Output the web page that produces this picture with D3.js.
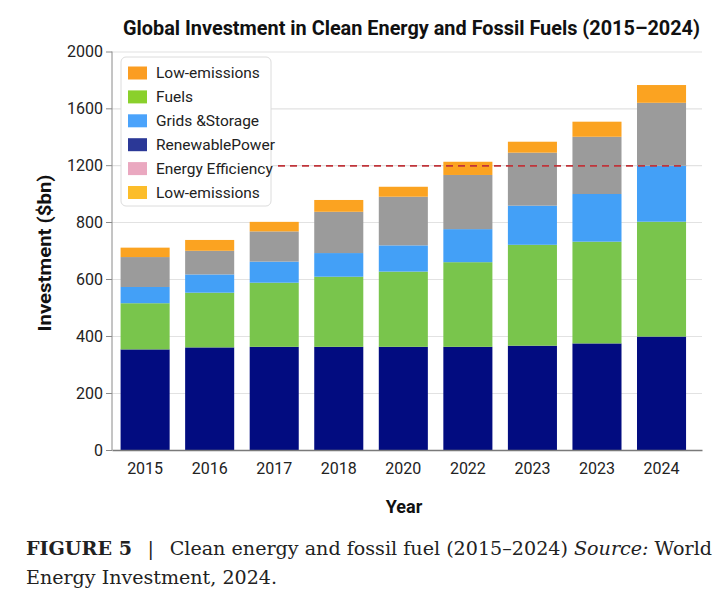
<!DOCTYPE html>
<html>
<head>
<meta charset="utf-8">
<script src="https://cdn.jsdelivr.net/npm/d3@7"></script>
<style>
  body { margin: 0; background: #fff; }
  svg { display: block; }
  .tick text { font-family: Roboto, "Liberation Sans", sans-serif; font-size: 16px; fill: #222; }
</style>
</head>
<body>
<svg id="chart" width="720" height="595"></svg>
<script>
// values ($bn); the y axis is piecewise (0-800 by 200, then by 400)
const years = ["2015", "2016", "2017", "2018", "2020", "2022", "2023", "2023", "2024"];
const renewablePower = [353, 360, 362, 362, 362, 362, 366, 374, 398];
const fuels = [162, 192, 225, 246, 264, 297, 354, 357, 404];
const gridsStorage = [57, 64, 74, 83, 92, 116, 195, 266, 394];
const energyEfficiency = [105, 83, 106, 181, 260, 356, 373, 403, 443];
const lowEmissions = [33, 38, 34, 83, 70, 93, 77, 106, 125];
const yTicks = [0, 200, 400, 600, 800, 1200, 1600, 2000];
const referenceLevel = 1195;
const legendLabels = ["Low-emissions", "Fuels", "Grids &Storage", "RenewablePower", "Energy Efficiency", "Low-emissions"];

const seriesKeys = ["renewablePower", "fuels", "gridsStorage", "energyEfficiency", "lowEmissions"];
const barColors = {
  renewablePower: "#020c80",
  fuels: "#79c54c",
  gridsStorage: "#43a0f7",
  energyEfficiency: "#9b9b9b",
  lowEmissions: "#fba321",
};
const legendColors = ["#fb9d22", "#8ad02c", "#4ba3fb", "#2b3897", "#eaa8c0", "#fcbd2a"];

const rows = years.map((yr, i) => ({
  idx: i,
  renewablePower: renewablePower[i],
  fuels: fuels[i],
  gridsStorage: gridsStorage[i],
  energyEfficiency: energyEfficiency[i],
  lowEmissions: lowEmissions[i],
}));

const svg = d3.select("#chart");
const plot = { left: 112, right: 702, top: 51.5, bottom: 450 };

const x = d3.scaleBand()
  .domain(d3.range(years.length))
  .range([plot.left, plot.right])
  .paddingInner(0.24)
  .paddingOuter(0.19)
  .align(0.35);

const y = d3.scaleLinear().domain([0, 800, 2000]).range([plot.bottom, 222, plot.top]);

// gridlines
svg.append("g")
  .attr("transform", `translate(${plot.left},0)`)
  .call(d3.axisLeft(y).tickValues(yTicks).tickSize(-(plot.right - plot.left)).tickFormat(() => ""))
  .call((g) => g.select(".domain").remove())
  .call((g) => g.selectAll("line").attr("stroke", "#e2e2e2").attr("stroke-width", 1.2));

// stacked bars
const stacked = d3.stack().keys(seriesKeys)(rows);
svg.append("g")
  .selectAll("g")
  .data(stacked)
  .join("g")
  .attr("fill", (s) => barColors[s.key])
  .selectAll("rect")
  .data((s) => s)
  .join("rect")
  .attr("x", (d) => x(d.data.idx))
  .attr("width", x.bandwidth())
  .attr("y", (d) => y(d[1]))
  .attr("height", (d) => y(d[0]) - y(d[1]));

// dashed reference line
svg.append("line")
  .attr("x1", 278)
  .attr("x2", x(years.length - 1) + x.bandwidth())
  .attr("y1", y(referenceLevel))
  .attr("y2", y(referenceLevel))
  .attr("stroke", "#c0343a")
  .attr("stroke-width", 1.6)
  .attr("stroke-dasharray", "7 5");

// axes
const yAxis = svg.append("g")
  .attr("transform", `translate(${plot.left},0)`)
  .call(d3.axisLeft(y).tickValues(yTicks).tickSize(6).tickPadding(3).tickFormat(d3.format("d")));
yAxis.select(".domain").attr("stroke", "#8a8a8a").attr("d", `M0,${plot.top}V${plot.bottom}`);
yAxis.selectAll(".tick line").attr("stroke", "#8a8a8a");

const xAxis = svg.append("g")
  .attr("transform", `translate(0,${plot.bottom})`)
  .call(d3.axisBottom(x).tickSize(0).tickPadding(13).tickFormat((i) => years[i]));
xAxis.select(".domain").attr("stroke", "#7a7a7a").attr("stroke-width", 1.3);

// legend
const legend = svg.append("g").attr("transform", "translate(121,57)");
legend.append("rect")
  .attr("width", 150)
  .attr("height", 149)
  .attr("rx", 5)
  .attr("fill", "#fff")
  .attr("stroke", "#dcdcdc");
const li = legend.selectAll("g.item")
  .data(legendLabels)
  .join("g")
  .attr("class", "item")
  .attr("transform", (d, i) => `translate(7,${16 + i * 23.9})`);
li.append("rect")
  .attr("y", -6.5)
  .attr("width", 19)
  .attr("height", 13)
  .attr("fill", (d, i) => legendColors[i]);
li.append("text")
  .attr("x", 28)
  .attr("dy", "0.35em")
  .attr("font-family", "Roboto, 'Liberation Sans', sans-serif")
  .attr("font-size", 15.5)
  .attr("fill", "#222")
  .text((d) => d);

// titles
svg.append("text")
  .attr("x", 123)
  .attr("y", 35)
  .attr("font-family", "Roboto, 'Liberation Sans', sans-serif")
  .attr("font-weight", "bold")
  .attr("font-size", 20)
  .attr("fill", "#111")
  .attr("textLength", 577)
  .attr("lengthAdjust", "spacingAndGlyphs")
  .text("Global Investment in Clean Energy and Fossil Fuels (2015–2024)");

svg.append("text")
  .attr("transform", "translate(51,253) rotate(-90)")
  .attr("text-anchor", "middle")
  .attr("font-family", "Roboto, 'Liberation Sans', sans-serif")
  .attr("font-weight", "bold")
  .attr("font-size", 18)
  .attr("fill", "#111")
  .attr("textLength", 157)
  .attr("lengthAdjust", "spacingAndGlyphs")
  .text("Investment ($bn)");

svg.append("text")
  .attr("x", 404)
  .attr("y", 513)
  .attr("text-anchor", "middle")
  .attr("font-family", "Roboto, 'Liberation Sans', sans-serif")
  .attr("font-weight", "bold")
  .attr("font-size", 18)
  .attr("fill", "#111")
  .text("Year");

// caption
const serif = "'DejaVu Serif', 'Liberation Serif', serif";
const cap = svg.append("text")
  .attr("x", 26)
  .attr("y", 555)
  .attr("font-family", serif)
  .attr("font-size", 18.5)
  .attr("fill", "#222")
  .attr("textLength", 686)
  .attr("lengthAdjust", "spacingAndGlyphs");
cap.append("tspan").attr("font-weight", "bold").text("FIGURE 5");
cap.append("tspan").text("\u2002 |\u2002 Clean energy and fossil fuel (2015–2024) ");
cap.append("tspan").attr("font-style", "italic").text("Source:");
cap.append("tspan").text(" World");
svg.append("text")
  .attr("x", 26)
  .attr("y", 584)
  .attr("font-family", serif)
  .attr("font-size", 18.5)
  .attr("fill", "#222")
  .attr("textLength", 251)
  .attr("lengthAdjust", "spacingAndGlyphs")
  .text("Energy Investment, 2024.");
</script>
</body>
</html>
